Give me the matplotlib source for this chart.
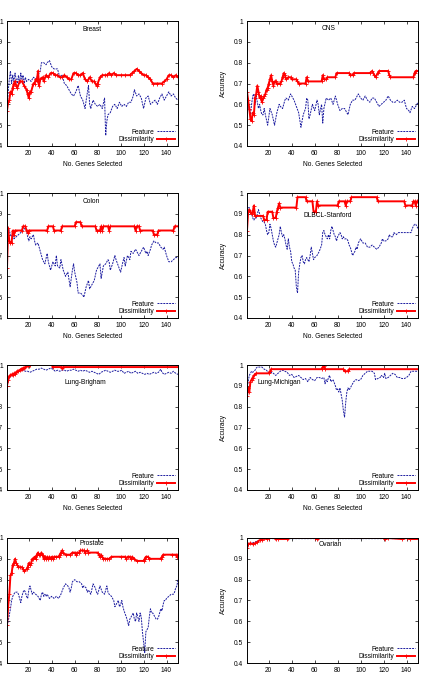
import matplotlib
matplotlib.use('Agg')
import matplotlib.pyplot as plt
from matplotlib.ticker import FuncFormatter

plt.rcParams['font.family'] = ['Liberation Sans', 'DejaVu Sans']

# ---- data (x = genes selected, y = accuracy) ----
breast_feat_x = [1, 2, 3, 4, 5, 6, 7, 8, 9, 10, 11, 12, 13, 14, 15, 16, 17, 18, 20, 22, 24, 26, 28, 30, 31, 33, 35, 36, 38, 40, 42, 45, 47, 49, 51, 53, 55, 57, 59, 61, 63, 65, 67, 69, 70, 72, 73, 74, 76, 78, 80, 82, 84, 86, 87, 88, 89, 91, 93, 95, 97, 99, 101, 103, 105, 107, 109, 111, 112, 114, 116, 118, 120, 122, 124, 126, 128, 130, 132, 134, 136, 138, 140, 142, 144, 146, 148, 150]
breast_feat_y = [.58, .66, .72, .76, .70, .74, .71, .75, .72, .70, .74, .70, .75, .72, .74, .70, .73, .71, .72, .71, .73, .72, .74, .76, .80, .80, .79, .80, .81, .78, .77, .77, .73, .74, .70, .69, .67, .65, .64, .66, .69, .64, .62, .58, .62, .69, .60, .58, .62, .60, .59, .60, .58, .63, .45, .52, .55, .56, .59, .60, .58, .61, .59, .60, .59, .61, .61, .64, .67, .64, .65, .63, .58, .63, .64, .60, .61, .62, .60, .63, .65, .62, .64, .66, .64, .65, .63, .62]
breast_dis_x = [1, 2, 3, 4, 5, 6, 7, 8, 9, 10, 12, 14, 16, 18, 19, 20, 21, 22, 24, 25, 26, 27, 28, 29, 30, 32, 33, 35, 37, 39, 41, 43, 45, 47, 49, 51, 53, 55, 57, 59, 61, 63, 65, 67, 69, 71, 73, 75, 77, 79, 80, 82, 84, 86, 88, 90, 92, 94, 96, 100, 104, 108, 110, 112, 114, 116, 118, 120, 122, 124, 126, 128, 132, 136, 138, 140, 142, 144, 146, 148, 150]
breast_dis_y = [.57, .61, .62, .66, .65, .68, .70, .71, .69, .68, .71, .71, .69, .67, .65, .63, .66, .66, .70, .70, .72, .71, .76, .69, .72, .73, .71, .74, .73, .75, .75, .74, .74, .73, .73, .74, .73, .72, .72, .75, .75, .74, .74, .75, .72, .71, .73, .71, .71, .69, .70, .73, .74, .74, .74, .75, .74, .75, .74, .74, .74, .74, .75, .76, .77, .76, .75, .74, .74, .73, .72, .70, .70, .70, .71, .72, .74, .74, .73, .74, .73]

cns_feat_x = [1, 2, 3, 4, 5, 6, 7, 8, 9, 10, 11, 12, 13, 14, 15, 16, 17, 19, 21, 23, 25, 27, 29, 30, 32, 34, 35, 37, 39, 40, 42, 44, 46, 48, 50, 52, 53, 54, 55, 56, 58, 60, 62, 63, 64, 66, 67, 68, 70, 72, 74, 76, 78, 80, 82, 84, 86, 88, 89, 91, 93, 95, 97, 98, 100, 102, 104, 106, 108, 110, 112, 114, 116, 118, 120, 122, 124, 126, 128, 130, 132, 134, 136, 138, 140, 142, 143, 145, 147, 149, 150]
cns_feat_y = [.67, .60, .57, .55, .60, .64, .65, .60, .64, .61, .58, .60, .57, .55, .55, .58, .55, .50, .58, .55, .50, .56, .60, .59, .58, .62, .63, .62, .65, .64, .62, .59, .56, .49, .55, .58, .63, .62, .53, .55, .60, .57, .62, .60, .55, .60, .51, .58, .63, .62, .63, .60, .64, .60, .57, .58, .58, .56, .55, .60, .62, .62, .64, .65, .63, .62, .64, .62, .61, .63, .63, .61, .59, .60, .61, .62, .64, .62, .61, .61, .62, .61, .61, .62, .58, .57, .56, .59, .58, .60, .61]
cns_dis_x = [1, 2, 3, 4, 5, 6, 7, 8, 9, 10, 11, 12, 13, 14, 15, 16, 17, 18, 19, 20, 21, 22, 23, 24, 25, 26, 27, 30, 31, 32, 33, 34, 35, 37, 39, 40, 44, 45, 46, 52, 53, 54, 66, 67, 68, 70, 71, 78, 79, 90, 91, 93, 94, 108, 110, 112, 113, 115, 116, 124, 125, 126, 146, 147, 148, 150]
cns_dis_y = [.66, .62, .58, .53, .52, .56, .55, .63, .65, .69, .66, .63, .64, .61, .63, .64, .65, .67, .68, .70, .72, .74, .71, .69, .71, .71, .70, .70, .71, .73, .75, .74, .72, .73, .73, .72, .72, .71, .70, .70, .73, .71, .71, .74, .72, .72, .73, .73, .75, .75, .74, .74, .75, .75, .76, .74, .73, .75, .76, .76, .74, .73, .73, .75, .76, .76]

colon_feat_x = [1, 2, 3, 4, 5, 6, 7, 9, 11, 13, 15, 16, 18, 19, 20, 21, 22, 24, 25, 26, 28, 30, 32, 34, 36, 37, 39, 41, 43, 44, 45, 47, 48, 50, 52, 54, 56, 58, 59, 60, 62, 63, 65, 67, 68, 70, 72, 73, 75, 77, 79, 81, 82, 83, 85, 87, 89, 90, 91, 93, 95, 96, 98, 100, 102, 103, 104, 106, 108, 109, 111, 113, 115, 116, 118, 120, 122, 123, 124, 126, 127, 129, 131, 133, 135, 137, 138, 140, 142, 144, 146, 148, 150]
colon_feat_y = [.84, .83, .82, .80, .79, .80, .78, .79, .80, .81, .82, .83, .82, .79, .77, .79, .78, .80, .77, .75, .76, .72, .68, .66, .71, .67, .63, .67, .65, .70, .65, .64, .68, .63, .60, .62, .55, .63, .66, .62, .57, .52, .52, .51, .50, .55, .58, .54, .56, .58, .63, .65, .66, .59, .65, .66, .68, .67, .63, .66, .70, .68, .65, .62, .67, .69, .65, .70, .68, .72, .71, .73, .71, .70, .72, .74, .71, .72, .70, .73, .75, .77, .76, .76, .74, .73, .74, .70, .67, .67, .68, .69, .69]
colon_dis_x = [1, 2, 3, 4, 5, 6, 7, 8, 14, 15, 17, 18, 19, 20, 36, 37, 41, 42, 48, 49, 60, 61, 65, 66, 78, 79, 82, 83, 84, 85, 89, 90, 91, 112, 113, 114, 116, 117, 128, 129, 132, 133, 146, 147, 150]
colon_dis_y = [.64, .83, .77, .76, .76, .82, .80, .82, .82, .84, .84, .82, .81, .82, .82, .84, .84, .82, .82, .84, .84, .86, .86, .84, .84, .82, .82, .84, .82, .84, .84, .82, .84, .84, .82, .84, .84, .82, .82, .80, .80, .82, .82, .84, .84]

dlbcl_feat_x = [1, 2, 3, 4, 5, 6, 7, 8, 9, 10, 11, 12, 13, 14, 15, 16, 17, 18, 19, 20, 21, 22, 23, 24, 25, 26, 27, 28, 29, 30, 31, 32, 33, 34, 35, 36, 37, 38, 39, 40, 41, 42, 43, 44, 45, 46, 47, 48, 49, 50, 51, 52, 53, 54, 55, 56, 57, 58, 59, 60, 62, 64, 66, 67, 68, 69, 70, 71, 72, 73, 74, 75, 76, 77, 78, 79, 80, 81, 82, 83, 84, 85, 86, 88, 89, 90, 91, 92, 93, 94, 95, 96, 97, 98, 100, 101, 102, 104, 106, 108, 110, 112, 114, 116, 118, 119, 120, 122, 124, 125, 126, 128, 129, 131, 133, 135, 140, 144, 145, 146, 147, 148, 149, 150]
dlbcl_feat_y = [.86, .93, .93, .91, .90, .88, .87, .88, .88, .90, .92, .90, .88, .87, .86, .86, .85, .82, .80, .81, .85, .83, .80, .77, .75, .74, .76, .78, .80, .84, .81, .79, .80, .78, .75, .73, .78, .74, .72, .67, .66, .64, .63, .55, .52, .62, .66, .69, .70, .67, .66, .68, .69, .68, .67, .70, .74, .71, .68, .69, .70, .72, .75, .81, .82, .80, .79, .78, .80, .78, .82, .84, .82, .80, .79, .77, .79, .80, .81, .80, .78, .79, .78, .78, .77, .75, .74, .72, .70, .71, .72, .74, .73, .76, .78, .77, .76, .76, .74, .74, .75, .74, .73, .74, .76, .78, .77, .77, .78, .80, .79, .79, .81, .80, .81, .81, .81, .81, .83, .84, .85, .85, .84, .83]
dlbcl_dis_x = [1, 2, 3, 4, 5, 6, 7, 8, 15, 16, 18, 19, 23, 24, 26, 27, 28, 29, 30, 44, 45, 52, 53, 58, 59, 61, 62, 63, 80, 81, 86, 87, 88, 91, 92, 114, 115, 138, 139, 145, 146, 147, 148, 149, 150]
dlbcl_dis_y = [.82, .91, .92, .91, .90, .91, .94, .89, .89, .87, .87, .91, .91, .88, .88, .91, .93, .95, .93, .93, .98, .98, .96, .96, .91, .91, .96, .94, .94, .96, .96, .94, .96, .96, .98, .98, .96, .96, .94, .94, .96, .96, .94, .96, .96]

brigham_feat_x = [1, 3, 6, 9, 12, 15, 17, 19, 21, 23, 25, 27, 29, 31, 33, 35, 37, 39, 41, 43, 45, 47, 49, 51, 53, 55, 57, 59, 61, 63, 65, 67, 69, 71, 73, 75, 77, 79, 81, 83, 85, 87, 89, 91, 93, 95, 97, 99, 101, 103, 105, 107, 109, 111, 113, 115, 117, 119, 121, 123, 125, 127, 129, 131, 133, 135, 136, 138, 140, 142, 144, 146, 148, 150]
brigham_feat_y = [.90, .94, .95, .96, .975, .975, .97, .97, .965, .97, .975, .98, .98, .985, .98, .975, .98, .985, .98, .97, .975, .97, .975, .975, .97, .975, .975, .98, .975, .97, .975, .97, .975, .97, .965, .97, .965, .96, .955, .965, .97, .975, .97, .965, .97, .975, .97, .97, .975, .96, .965, .97, .96, .965, .97, .96, .965, .96, .955, .96, .955, .96, .965, .96, .965, .98, .965, .955, .96, .965, .96, .97, .96, .955]
brigham_dis_x = [1, 2, 3, 4, 5, 6, 7, 8, 9, 10, 11, 12, 13, 14, 15, 16, 17, 19, 21, 40, 41, 48, 49, 50, 150]
brigham_dis_y = [.90, .93, .945, .95, .955, .95, .96, .955, .965, .97, .97, .975, .98, .98, .985, .985, .99, .995, 1.0, 1.0, .99, .99, .985, .99, .99]

michigan_feat_x = [1, 2, 3, 4, 5, 6, 7, 8, 9, 10, 12, 14, 15, 16, 18, 20, 22, 24, 26, 28, 30, 32, 34, 36, 38, 40, 42, 44, 46, 48, 50, 52, 54, 56, 58, 60, 62, 64, 66, 68, 69, 70, 71, 72, 73, 74, 76, 78, 79, 80, 81, 82, 83, 84, 85, 86, 87, 88, 89, 90, 92, 94, 96, 98, 100, 102, 104, 106, 108, 110, 112, 113, 115, 117, 118, 120, 121, 122, 124, 126, 128, 130, 132, 134, 136, 138, 140, 142, 144, 146, 150]
michigan_feat_y = [.88, .92, .95, .96, .97, .965, .97, .975, .985, .99, .99, .99, .985, .98, .975, .96, .965, .96, .95, .96, .97, .975, .97, .965, .95, .955, .94, .945, .95, .94, .93, .935, .92, .94, .93, .925, .94, .94, .935, .94, .91, .93, .92, .94, .95, .92, .93, .90, .88, .885, .87, .89, .86, .83, .78, .75, .82, .87, .89, .88, .90, .92, .93, .925, .93, .95, .96, .97, .97, .97, .96, .93, .935, .94, .95, .94, .96, .935, .94, .95, .96, .955, .94, .94, .935, .935, .94, .95, .97, .97, .97]
michigan_dis_x = [1, 2, 3, 4, 5, 6, 7, 9, 20, 21, 22, 66, 67, 68, 69, 85, 86, 89, 90, 150]
michigan_dis_y = [.85, .89, .87, .92, .93, .94, .95, .96, .96, .97, .98, .98, .99, .995, .98, .98, .97, .97, .98, .98]

prostate_feat_x = [1, 2, 3, 4, 5, 6, 7, 8, 9, 10, 11, 12, 13, 14, 15, 16, 17, 18, 19, 20, 21, 22, 23, 24, 26, 28, 29, 30, 31, 32, 33, 34, 35, 36, 38, 40, 42, 44, 46, 48, 50, 52, 54, 55, 56, 57, 58, 60, 62, 64, 66, 67, 68, 70, 71, 72, 74, 76, 78, 79, 80, 82, 84, 86, 88, 89, 90, 92, 94, 95, 96, 98, 99, 100, 101, 102, 103, 105, 106, 107, 108, 109, 110, 111, 112, 113, 114, 115, 116, 117, 118, 119, 120, 121, 122, 123, 124, 125, 126, 127, 128, 130, 131, 132, 133, 134, 135, 136, 137, 138, 139, 140, 142, 144, 146, 147, 148, 149, 150]
prostate_feat_y = [.58, .60, .63, .66, .70, .72, .73, .74, .74, .74, .73, .71, .69, .72, .74, .75, .74, .72, .71, .75, .77, .75, .73, .74, .73, .72, .71, .70, .73, .74, .72, .73, .72, .73, .71, .72, .71, .72, .71, .73, .76, .78, .77, .76, .74, .76, .79, .80, .79, .79, .78, .76, .77, .76, .74, .75, .73, .78, .76, .74, .73, .77, .74, .73, .77, .74, .73, .72, .70, .67, .68, .70, .67, .68, .70, .67, .65, .62, .60, .58, .61, .62, .63, .64, .61, .60, .64, .62, .60, .64, .62, .55, .50, .45, .55, .56, .57, .62, .66, .64, .64, .62, .61, .61, .62, .64, .66, .65, .68, .70, .70, .71, .72, .73, .73, .74, .76, .77, .80]
prostate_dis_x = [1, 2, 3, 4, 5, 6, 7, 8, 9, 10, 11, 12, 14, 15, 16, 18, 19, 20, 21, 22, 23, 24, 25, 26, 27, 28, 29, 30, 31, 32, 33, 34, 35, 36, 37, 38, 39, 40, 41, 42, 44, 46, 47, 48, 49, 50, 52, 56, 58, 60, 61, 62, 64, 65, 66, 68, 69, 71, 72, 80, 81, 82, 83, 84, 85, 86, 88, 90, 92, 100, 104, 105, 106, 108, 109, 110, 112, 114, 120, 121, 122, 124, 125, 135, 136, 137, 145, 148, 149, 150]
prostate_dis_y = [.58, .67, .73, .82, .83, .87, .88, .90, .88, .87, .86, .86, .86, .85, .84, .85, .86, .88, .87, .88, .90, .90, .91, .90, .92, .93, .92, .92, .93, .92, .90, .91, .90, .91, .90, .91, .90, .91, .90, .91, .91, .91, .92, .93, .94, .93, .92, .92, .93, .93, .92, .93, .93, .94, .94, .94, .93, .94, .93, .93, .92, .91, .92, .91, .90, .90, .90, .90, .91, .91, .91, .90, .91, .91, .90, .91, .90, .89, .89, .90, .91, .91, .90, .90, .91, .92, .92, .92, .91, .92]

ovarian_feat_x = [1, 5, 10, 15, 150]
ovarian_feat_y = [.965, .975, .985, .997, .997]
ovarian_dis_x = [1, 2, 4, 6, 8, 10, 12, 14, 16, 18, 20, 25, 26, 28, 36, 37, 60, 62, 63, 120, 121, 124, 136, 140, 143, 150]
ovarian_dis_y = [.95, .97, .975, .97, .975, .98, .99, .99, 1.0, .995, 1.0, 1.0, .995, .995, .995, 1.0, 1.0, .995, 1.0, 1.0, .995, 1.0, .995, 1.0, .995, .995]

titles = ['Breast', 'CNS', 'Colon', 'DLBCL-Stanford', 'Lung-Brigham', 'Lung-Michigan', 'Prostate', 'Ovarian']
feature = [(breast_feat_x, breast_feat_y), (cns_feat_x, cns_feat_y), (colon_feat_x, colon_feat_y),
           (dlbcl_feat_x, dlbcl_feat_y), (brigham_feat_x, brigham_feat_y), (michigan_feat_x, michigan_feat_y),
           (prostate_feat_x, prostate_feat_y), (ovarian_feat_x, ovarian_feat_y)]
dissim = [(breast_dis_x, breast_dis_y), (cns_dis_x, cns_dis_y), (colon_dis_x, colon_dis_y),
          (dlbcl_dis_x, dlbcl_dis_y), (brigham_dis_x, brigham_dis_y), (michigan_dis_x, michigan_dis_y),
          (prostate_dis_x, prostate_dis_y), (ovarian_dis_x, ovarian_dis_y)]

# title position inside each panel (axes fraction)
title_pos = [(0.495, 0.935), (0.476, 0.938), (0.49, 0.93), (0.47, 0.82),
             (0.456, 0.86), (0.19, 0.864), (0.495, 0.955), (0.49, 0.95)]

W, H = 426, 676
col_left = [7, 247]
row_top = [21, 193, 365, 538]
aw, ah = 171, 125
fs = 4.8

fig = plt.figure(figsize=(W / 100, H / 100), dpi=100)

for i, name in enumerate(titles):
    r, c = divmod(i, 2)
    ax = fig.add_axes([col_left[c] / W, 1 - (row_top[r] + ah) / H, aw / W, ah / H])
    fx, fy = feature[i]
    dx, dy = dissim[i]
    ax.plot(fx, fy, color='#1c1ca0', lw=0.7, dashes=(2, 1), label='Feature')
    ax.plot(dx, dy, color='#ff0000', lw=1.4, marker='+', ms=2.2, mew=0.6, label='Dissimilarity')
    ax.set_xlim(1, 150)
    ax.set_ylim(0.4, 1.0)
    ax.set_xticks([20, 40, 60, 80, 100, 120, 140])
    ax.set_yticks([0.4, 0.5, 0.6, 0.7, 0.8, 0.9, 1.0])
    ax.yaxis.set_major_formatter(FuncFormatter(lambda v, p: '%g' % round(v, 1)))
    ax.tick_params(direction='in', length=2.5, width=0.5, top=True, right=True,
                   labelsize=fs, pad=3)
    for s in ax.spines.values():
        s.set_linewidth(0.7)
    ax.set_xlabel('No. Genes Selected', fontsize=fs, labelpad=3)
    ax.set_ylabel('Accuracy', fontsize=fs, labelpad=5)
    ax.text(title_pos[i][0], title_pos[i][1], name, transform=ax.transAxes,
            ha='center', va='center', fontsize=fs)
    ax.legend(loc='lower right', markerfirst=False, frameon=False, fontsize=fs,
              handlelength=2.8, labelspacing=0.1, borderaxespad=0.2, borderpad=0.2,
              handletextpad=0.4)

fig.savefig('out.png', dpi=100)
